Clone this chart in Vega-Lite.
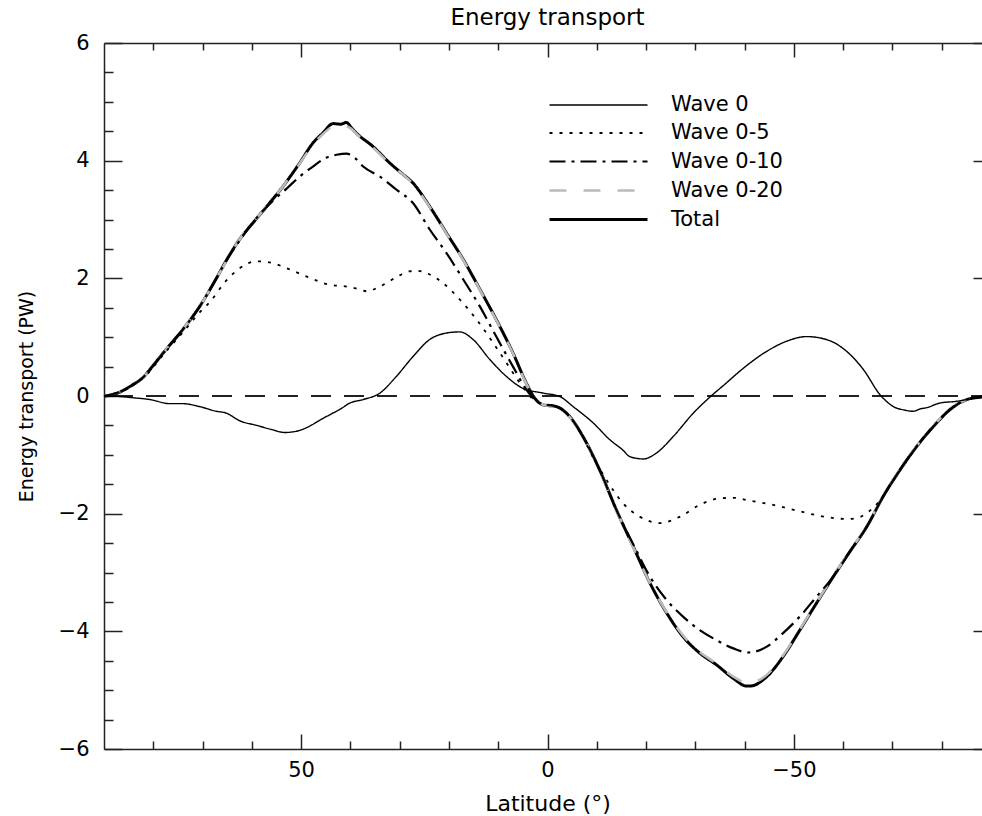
{
  "$schema": "https://vega.github.io/schema/vega-lite/v6.json",
  "width": 887,
  "height": 706,
  "autosize": {"type": "none"},
  "padding": {"left": 104, "top": 43, "right": -9, "bottom": 67},
  "background": "white",
  "title": {"text": "Energy transport", "fontSize": 23, "fontWeight": "normal", "font": "DejaVu Sans", "color": "#000", "offset": 2, "anchor": "middle"},
  "config": {
    "view": {"stroke": null},
    "font": "DejaVu Sans",
    "line": {"interpolate": "monotone"},
    "axis": {"grid": false, "domainColor": "#222", "domainWidth": 1.5, "tickColor": "#222", "tickWidth": 1.5, "labelColor": "#000", "labelFontSize": 21, "labelFont": "DejaVu Sans", "titleColor": "#000", "titleFontWeight": "normal", "labelFlush": false, "labelOverlap": false},
    "legend": {"orient": "none", "legendX": 483, "legendY": 51, "title": null, "symbolType": "M-4.9,0H4.9", "symbolSize": 400, "labelFontSize": 21, "labelFont": "DejaVu Sans", "labelColor": "#000", "labelOffset": 61, "rowPadding": 7, "padding": 0}
  },
  "data": {"values": [
    {"series":"Total","lat":90,"pw":0},{"series":"Total","lat":88.7,"pw":0.01},{"series":"Total","lat":86,"pw":0.1},{"series":"Total","lat":84.2,"pw":0.19},{"series":"Total","lat":82,"pw":0.32},{"series":"Total","lat":80.7,"pw":0.45},{"series":"Total","lat":77.4,"pw":0.79},{"series":"Total","lat":74,"pw":1.13},{"series":"Total","lat":70.6,"pw":1.52},{"series":"Total","lat":67.2,"pw":2.0},{"series":"Total","lat":65.2,"pw":2.3},{"series":"Total","lat":62.5,"pw":2.66},{"series":"Total","lat":59.8,"pw":2.94},{"series":"Total","lat":57,"pw":3.22},{"series":"Total","lat":53.7,"pw":3.56},{"series":"Total","lat":50.3,"pw":3.96},{"series":"Total","lat":47.6,"pw":4.3},{"series":"Total","lat":45.6,"pw":4.47},{"series":"Total","lat":43.5,"pw":4.63},{"series":"Total","lat":42,"pw":4.62},{"series":"Total","lat":40.8,"pw":4.65},{"series":"Total","lat":39.8,"pw":4.56},{"series":"Total","lat":38.8,"pw":4.47},{"series":"Total","lat":35.4,"pw":4.24},{"series":"Total","lat":32,"pw":3.96},{"series":"Total","lat":29.5,"pw":3.78},{"series":"Total","lat":27.3,"pw":3.62},{"series":"Total","lat":23.9,"pw":3.22},{"series":"Total","lat":20.5,"pw":2.77},{"series":"Total","lat":17.1,"pw":2.32},{"series":"Total","lat":13.7,"pw":1.81},{"series":"Total","lat":10.4,"pw":1.3},{"series":"Total","lat":7,"pw":0.73},{"series":"Total","lat":4.3,"pw":0.22},{"series":"Total","lat":2.9,"pw":0},{"series":"Total","lat":0.9,"pw":-0.15},{"series":"Total","lat":-1.8,"pw":-0.18},{"series":"Total","lat":-4.5,"pw":-0.35},{"series":"Total","lat":-7.2,"pw":-0.69},{"series":"Total","lat":-10.6,"pw":-1.26},{"series":"Total","lat":-14,"pw":-1.94},{"series":"Total","lat":-17.4,"pw":-2.56},{"series":"Total","lat":-20.8,"pw":-3.18},{"series":"Total","lat":-24.2,"pw":-3.69},{"series":"Total","lat":-27.5,"pw":-4.09},{"series":"Total","lat":-30.9,"pw":-4.37},{"series":"Total","lat":-34.3,"pw":-4.57},{"series":"Total","lat":-37.7,"pw":-4.8},{"series":"Total","lat":-40.4,"pw":-4.93},{"series":"Total","lat":-41.1,"pw":-4.93},{"series":"Total","lat":-44.5,"pw":-4.77},{"series":"Total","lat":-47.8,"pw":-4.43},{"series":"Total","lat":-51.2,"pw":-3.98},{"series":"Total","lat":-54.6,"pw":-3.52},{"series":"Total","lat":-58,"pw":-3.07},{"series":"Total","lat":-61.4,"pw":-2.64},{"series":"Total","lat":-64.8,"pw":-2.22},{"series":"Total","lat":-68.1,"pw":-1.71},{"series":"Total","lat":-71.5,"pw":-1.26},{"series":"Total","lat":-74.9,"pw":-0.86},{"series":"Total","lat":-78.3,"pw":-0.52},{"series":"Total","lat":-81.7,"pw":-0.23},{"series":"Total","lat":-85.1,"pw":-0.06},{"series":"Total","lat":-87.8,"pw":-0.02},{"series":"Total","lat":-90,"pw":0},

    {"series":"Wave 0-20","lat":90,"pw":0},{"series":"Wave 0-20","lat":86,"pw":0.1},{"series":"Wave 0-20","lat":82,"pw":0.32},{"series":"Wave 0-20","lat":77.4,"pw":0.79},{"series":"Wave 0-20","lat":74,"pw":1.13},{"series":"Wave 0-20","lat":70.6,"pw":1.52},{"series":"Wave 0-20","lat":67.2,"pw":2.0},{"series":"Wave 0-20","lat":62.5,"pw":2.66},{"series":"Wave 0-20","lat":57,"pw":3.22},{"series":"Wave 0-20","lat":53.7,"pw":3.56},{"series":"Wave 0-20","lat":50.3,"pw":3.95},{"series":"Wave 0-20","lat":47.6,"pw":4.27},{"series":"Wave 0-20","lat":45.6,"pw":4.45},{"series":"Wave 0-20","lat":43.5,"pw":4.58},{"series":"Wave 0-20","lat":41.5,"pw":4.6},{"series":"Wave 0-20","lat":39.8,"pw":4.54},{"series":"Wave 0-20","lat":38.8,"pw":4.46},{"series":"Wave 0-20","lat":35.4,"pw":4.22},{"series":"Wave 0-20","lat":32,"pw":3.95},{"series":"Wave 0-20","lat":27.3,"pw":3.6},{"series":"Wave 0-20","lat":23.9,"pw":3.21},{"series":"Wave 0-20","lat":20.5,"pw":2.76},{"series":"Wave 0-20","lat":17.1,"pw":2.31},{"series":"Wave 0-20","lat":13.7,"pw":1.8},{"series":"Wave 0-20","lat":10.4,"pw":1.29},{"series":"Wave 0-20","lat":7,"pw":0.72},{"series":"Wave 0-20","lat":4.3,"pw":0.21},{"series":"Wave 0-20","lat":2.9,"pw":0},{"series":"Wave 0-20","lat":0.9,"pw":-0.15},{"series":"Wave 0-20","lat":-1.8,"pw":-0.19},{"series":"Wave 0-20","lat":-4.5,"pw":-0.36},{"series":"Wave 0-20","lat":-7.2,"pw":-0.7},{"series":"Wave 0-20","lat":-10.6,"pw":-1.27},{"series":"Wave 0-20","lat":-14,"pw":-1.95},{"series":"Wave 0-20","lat":-17.4,"pw":-2.57},{"series":"Wave 0-20","lat":-20.8,"pw":-3.18},{"series":"Wave 0-20","lat":-24.2,"pw":-3.68},{"series":"Wave 0-20","lat":-27.5,"pw":-4.07},{"series":"Wave 0-20","lat":-30.9,"pw":-4.35},{"series":"Wave 0-20","lat":-34.3,"pw":-4.55},{"series":"Wave 0-20","lat":-37.7,"pw":-4.77},{"series":"Wave 0-20","lat":-40.7,"pw":-4.88},{"series":"Wave 0-20","lat":-44.5,"pw":-4.74},{"series":"Wave 0-20","lat":-47.8,"pw":-4.41},{"series":"Wave 0-20","lat":-51.2,"pw":-3.97},{"series":"Wave 0-20","lat":-54.6,"pw":-3.51},{"series":"Wave 0-20","lat":-58,"pw":-3.06},{"series":"Wave 0-20","lat":-61.4,"pw":-2.63},{"series":"Wave 0-20","lat":-64.8,"pw":-2.21},{"series":"Wave 0-20","lat":-68.1,"pw":-1.7},{"series":"Wave 0-20","lat":-71.5,"pw":-1.25},{"series":"Wave 0-20","lat":-74.9,"pw":-0.85},{"series":"Wave 0-20","lat":-78.3,"pw":-0.51},{"series":"Wave 0-20","lat":-81.7,"pw":-0.22},{"series":"Wave 0-20","lat":-85.1,"pw":-0.06},{"series":"Wave 0-20","lat":-90,"pw":0},

    {"series":"Wave 0-10","lat":90,"pw":0},{"series":"Wave 0-10","lat":86,"pw":0.1},{"series":"Wave 0-10","lat":82,"pw":0.32},{"series":"Wave 0-10","lat":77.4,"pw":0.79},{"series":"Wave 0-10","lat":74,"pw":1.13},{"series":"Wave 0-10","lat":70.6,"pw":1.52},{"series":"Wave 0-10","lat":67.2,"pw":2.0},{"series":"Wave 0-10","lat":65.2,"pw":2.3},{"series":"Wave 0-10","lat":62.5,"pw":2.64},{"series":"Wave 0-10","lat":59.1,"pw":3.02},{"series":"Wave 0-10","lat":55.7,"pw":3.32},{"series":"Wave 0-10","lat":53,"pw":3.52},{"series":"Wave 0-10","lat":50.3,"pw":3.73},{"series":"Wave 0-10","lat":47.6,"pw":3.9},{"series":"Wave 0-10","lat":44.9,"pw":4.05},{"series":"Wave 0-10","lat":42.8,"pw":4.1},{"series":"Wave 0-10","lat":40.8,"pw":4.12},{"series":"Wave 0-10","lat":39,"pw":4.04},{"series":"Wave 0-10","lat":37.4,"pw":3.9},{"series":"Wave 0-10","lat":34,"pw":3.73},{"series":"Wave 0-10","lat":30.7,"pw":3.51},{"series":"Wave 0-10","lat":27.3,"pw":3.28},{"series":"Wave 0-10","lat":23.9,"pw":2.83},{"series":"Wave 0-10","lat":20.5,"pw":2.43},{"series":"Wave 0-10","lat":17.1,"pw":1.98},{"series":"Wave 0-10","lat":13.7,"pw":1.52},{"series":"Wave 0-10","lat":10.4,"pw":1.01},{"series":"Wave 0-10","lat":7,"pw":0.5},{"series":"Wave 0-10","lat":4.3,"pw":0.11},{"series":"Wave 0-10","lat":1.6,"pw":-0.12},{"series":"Wave 0-10","lat":-1.8,"pw":-0.18},{"series":"Wave 0-10","lat":-4.5,"pw":-0.35},{"series":"Wave 0-10","lat":-7.2,"pw":-0.69},{"series":"Wave 0-10","lat":-10.6,"pw":-1.26},{"series":"Wave 0-10","lat":-14,"pw":-1.94},{"series":"Wave 0-10","lat":-17.4,"pw":-2.52},{"series":"Wave 0-10","lat":-20.8,"pw":-3.07},{"series":"Wave 0-10","lat":-24.2,"pw":-3.47},{"series":"Wave 0-10","lat":-27.5,"pw":-3.75},{"series":"Wave 0-10","lat":-30.9,"pw":-3.98},{"series":"Wave 0-10","lat":-34.3,"pw":-4.15},{"series":"Wave 0-10","lat":-37.7,"pw":-4.29},{"series":"Wave 0-10","lat":-40.7,"pw":-4.36},{"series":"Wave 0-10","lat":-44.5,"pw":-4.26},{"series":"Wave 0-10","lat":-47.8,"pw":-4.03},{"series":"Wave 0-10","lat":-51.2,"pw":-3.75},{"series":"Wave 0-10","lat":-54.6,"pw":-3.41},{"series":"Wave 0-10","lat":-58,"pw":-3.07},{"series":"Wave 0-10","lat":-61.4,"pw":-2.64},{"series":"Wave 0-10","lat":-64.8,"pw":-2.22},{"series":"Wave 0-10","lat":-68.1,"pw":-1.71},{"series":"Wave 0-10","lat":-71.5,"pw":-1.26},{"series":"Wave 0-10","lat":-74.9,"pw":-0.86},{"series":"Wave 0-10","lat":-78.3,"pw":-0.52},{"series":"Wave 0-10","lat":-81.7,"pw":-0.23},{"series":"Wave 0-10","lat":-85.1,"pw":-0.06},{"series":"Wave 0-10","lat":-90,"pw":0},

    {"series":"Wave 0-5","lat":90,"pw":0},{"series":"Wave 0-5","lat":86,"pw":0.1},{"series":"Wave 0-5","lat":82,"pw":0.31},{"series":"Wave 0-5","lat":77.4,"pw":0.76},{"series":"Wave 0-5","lat":74,"pw":1.08},{"series":"Wave 0-5","lat":70.6,"pw":1.42},{"series":"Wave 0-5","lat":68.5,"pw":1.6},{"series":"Wave 0-5","lat":65.2,"pw":1.96},{"series":"Wave 0-5","lat":62.5,"pw":2.17},{"series":"Wave 0-5","lat":59.1,"pw":2.29},{"series":"Wave 0-5","lat":56.4,"pw":2.27},{"series":"Wave 0-5","lat":52.3,"pw":2.15},{"series":"Wave 0-5","lat":48.3,"pw":2.01},{"series":"Wave 0-5","lat":44.2,"pw":1.89},{"series":"Wave 0-5","lat":40.8,"pw":1.86},{"series":"Wave 0-5","lat":38.5,"pw":1.82},{"series":"Wave 0-5","lat":36.7,"pw":1.78},{"series":"Wave 0-5","lat":34.5,"pw":1.84},{"series":"Wave 0-5","lat":32.7,"pw":1.92},{"series":"Wave 0-5","lat":30,"pw":2.05},{"series":"Wave 0-5","lat":28,"pw":2.12},{"series":"Wave 0-5","lat":26.5,"pw":2.13},{"series":"Wave 0-5","lat":24.6,"pw":2.09},{"series":"Wave 0-5","lat":21.2,"pw":1.92},{"series":"Wave 0-5","lat":17.8,"pw":1.64},{"series":"Wave 0-5","lat":14.4,"pw":1.3},{"series":"Wave 0-5","lat":11,"pw":0.9},{"series":"Wave 0-5","lat":8.3,"pw":0.56},{"series":"Wave 0-5","lat":5.6,"pw":0.22},{"series":"Wave 0-5","lat":3.6,"pw":0},{"series":"Wave 0-5","lat":1,"pw":-0.14},{"series":"Wave 0-5","lat":-1.8,"pw":-0.18},{"series":"Wave 0-5","lat":-4.5,"pw":-0.35},{"series":"Wave 0-5","lat":-7,"pw":-0.66},{"series":"Wave 0-5","lat":-8.6,"pw":-0.94},{"series":"Wave 0-5","lat":-12,"pw":-1.43},{"series":"Wave 0-5","lat":-15.3,"pw":-1.82},{"series":"Wave 0-5","lat":-18.7,"pw":-2.05},{"series":"Wave 0-5","lat":-22.8,"pw":-2.16},{"series":"Wave 0-5","lat":-26.9,"pw":-2.05},{"series":"Wave 0-5","lat":-30.9,"pw":-1.85},{"series":"Wave 0-5","lat":-35,"pw":-1.74},{"series":"Wave 0-5","lat":-38,"pw":-1.73},{"series":"Wave 0-5","lat":-40.4,"pw":-1.77},{"series":"Wave 0-5","lat":-45.8,"pw":-1.85},{"series":"Wave 0-5","lat":-51.2,"pw":-1.96},{"series":"Wave 0-5","lat":-56,"pw":-2.05},{"series":"Wave 0-5","lat":-60.7,"pw":-2.09},{"series":"Wave 0-5","lat":-62.5,"pw":-2.08},{"series":"Wave 0-5","lat":-64.8,"pw":-1.99},{"series":"Wave 0-5","lat":-67.5,"pw":-1.77},{"series":"Wave 0-5","lat":-70.2,"pw":-1.43},{"series":"Wave 0-5","lat":-73.5,"pw":-1.03},{"series":"Wave 0-5","lat":-75,"pw":-0.84},{"series":"Wave 0-5","lat":-78.3,"pw":-0.51},{"series":"Wave 0-5","lat":-81.7,"pw":-0.23},{"series":"Wave 0-5","lat":-85.1,"pw":-0.06},{"series":"Wave 0-5","lat":-90,"pw":0},

    {"series":"Wave 0","lat":90,"pw":0},{"series":"Wave 0","lat":88.9,"pw":0},{"series":"Wave 0","lat":84.1,"pw":-0.03},{"series":"Wave 0","lat":80.7,"pw":-0.06},{"series":"Wave 0","lat":76.7,"pw":-0.13},{"series":"Wave 0","lat":74,"pw":-0.13},{"series":"Wave 0","lat":70.6,"pw":-0.18},{"series":"Wave 0","lat":67.2,"pw":-0.26},{"series":"Wave 0","lat":65.2,"pw":-0.29},{"series":"Wave 0","lat":62.5,"pw":-0.42},{"series":"Wave 0","lat":59,"pw":-0.5},{"series":"Wave 0","lat":56,"pw":-0.57},{"series":"Wave 0","lat":53.3,"pw":-0.62},{"series":"Wave 0","lat":51,"pw":-0.6},{"series":"Wave 0","lat":48,"pw":-0.5},{"series":"Wave 0","lat":46,"pw":-0.4},{"series":"Wave 0","lat":44.2,"pw":-0.32},{"series":"Wave 0","lat":42,"pw":-0.22},{"series":"Wave 0","lat":40.1,"pw":-0.12},{"series":"Wave 0","lat":37.4,"pw":-0.06},{"series":"Wave 0","lat":34,"pw":0.05},{"series":"Wave 0","lat":30.7,"pw":0.33},{"series":"Wave 0","lat":27.3,"pw":0.67},{"series":"Wave 0","lat":23.9,"pw":0.96},{"series":"Wave 0","lat":20.5,"pw":1.07},{"series":"Wave 0","lat":17.8,"pw":1.09},{"series":"Wave 0","lat":15.1,"pw":0.96},{"series":"Wave 0","lat":11.7,"pw":0.62},{"series":"Wave 0","lat":8.3,"pw":0.33},{"series":"Wave 0","lat":5,"pw":0.13},{"series":"Wave 0","lat":0.9,"pw":0.05},{"series":"Wave 0","lat":-2.5,"pw":-0.01},{"series":"Wave 0","lat":-5.2,"pw":-0.18},{"series":"Wave 0","lat":-9.3,"pw":-0.46},{"series":"Wave 0","lat":-12.6,"pw":-0.74},{"series":"Wave 0","lat":-15.3,"pw":-0.92},{"series":"Wave 0","lat":-16.7,"pw":-1.03},{"series":"Wave 0","lat":-19.4,"pw":-1.07},{"series":"Wave 0","lat":-22.1,"pw":-0.97},{"series":"Wave 0","lat":-25.5,"pw":-0.69},{"series":"Wave 0","lat":-29.6,"pw":-0.29},{"series":"Wave 0","lat":-33.2,"pw":0},{"series":"Wave 0","lat":-36,"pw":0.2},{"series":"Wave 0","lat":-39,"pw":0.42},{"series":"Wave 0","lat":-44.5,"pw":0.76},{"series":"Wave 0","lat":-48.5,"pw":0.93},{"series":"Wave 0","lat":-52.6,"pw":1.01},{"series":"Wave 0","lat":-56.6,"pw":0.96},{"series":"Wave 0","lat":-60.7,"pw":0.76},{"series":"Wave 0","lat":-64.1,"pw":0.45},{"series":"Wave 0","lat":-67.5,"pw":0.02},{"series":"Wave 0","lat":-70.2,"pw":-0.18},{"series":"Wave 0","lat":-72.5,"pw":-0.24},{"series":"Wave 0","lat":-74.2,"pw":-0.26},{"series":"Wave 0","lat":-75.6,"pw":-0.22},{"series":"Wave 0","lat":-76.9,"pw":-0.2},{"series":"Wave 0","lat":-79.6,"pw":-0.12},{"series":"Wave 0","lat":-83,"pw":-0.09},{"series":"Wave 0","lat":-86.4,"pw":-0.04},{"series":"Wave 0","lat":-90,"pw":0}
  ]},
  "resolve": {"axis": {"x": "independent", "y": "independent"}},
  "encoding": {
    "x": {"field": "lat", "type": "quantitative", "scale": {"domain": [-90, 90], "reverse": true, "nice": false, "zero": false}},
    "y": {"field": "pw", "type": "quantitative", "scale": {"domain": [-6, 6], "nice": false, "zero": false}},
    "color": {"field": "series", "type": "nominal", "scale": {"domain": ["Wave 0", "Wave 0-5", "Wave 0-10", "Wave 0-20", "Total"], "range": ["#000000", "#000000", "#000000", "#bbbbbb", "#000000"]}},
    "strokeDash": {"field": "series", "type": "nominal", "scale": {"domain": ["Wave 0", "Wave 0-5", "Wave 0-10", "Wave 0-20", "Total"], "range": [[1, 0], [3, 7], [16, 6, 3, 6], [17, 17], [1, 0]]}},
    "strokeWidth": {"field": "series", "type": "nominal", "scale": {"domain": ["Wave 0", "Wave 0-5", "Wave 0-10", "Wave 0-20", "Total"], "range": [1.4, 3, 3.8, 4, 3]}}
  },
  "layer": [
    {
      "mark": {"type": "rule", "strokeDash": [20, 13], "strokeWidth": 1.4, "color": "#222"},
      "encoding": {"y": {"datum": 0, "axis": null}, "x": null, "color": null, "strokeDash": null, "strokeWidth": null}
    },
    {
      "transform": [{"filter": "datum.series === 'Total'"}],
      "mark": {"type": "line"},
      "encoding": {
        "x": {"field": "lat", "type": "quantitative", "axis": {"orient": "bottom", "values": [50, 0, -50], "ticks": false, "domain": true, "labelPadding": 10, "title": "Latitude (°)", "titleFontSize": 22, "titlePadding": 13}},
        "y": {"field": "pw", "type": "quantitative", "axis": {"orient": "left", "values": [-6, -4, -2, 0, 2, 4, 6], "ticks": false, "domain": true, "labelPadding": 15, "title": "Energy transport (PW)", "titleFontSize": 19, "titlePadding": 22}}
      }
    },
    {
      "transform": [{"filter": "datum.series === 'Wave 0-20'"}],
      "mark": {"type": "line"},
      "encoding": {
        "x": {"field": "lat", "type": "quantitative", "axis": {"orient": "bottom", "values": [50, 0, -50], "labels": false, "domain": false, "tickSize": -15, "title": null}},
        "y": {"field": "pw", "type": "quantitative", "axis": {"orient": "left", "values": [-6, -4, -2, 0, 2, 4, 6], "labels": false, "domain": false, "tickSize": -18, "title": null}}
      }
    },
    {
      "transform": [{"filter": "datum.series === 'Wave 0-10'"}],
      "mark": {"type": "line"},
      "encoding": {
        "x": {"field": "lat", "type": "quantitative", "axis": {"orient": "bottom", "values": [80, 70, 60, 40, 30, 20, 10, -10, -20, -30, -40, -60, -70, -80], "labels": false, "domain": false, "tickSize": -8, "title": null}},
        "y": {"field": "pw", "type": "quantitative", "axis": {"orient": "left", "values": [-5.5, -5, -4.5, -3.5, -3, -2.5, -1.5, -1, -0.5, 0.5, 1, 1.5, 2.5, 3, 3.5, 4.5, 5, 5.5], "labels": false, "domain": false, "tickSize": -9, "title": null}}
      }
    },
    {
      "transform": [{"filter": "datum.series === 'Wave 0-5'"}],
      "mark": {"type": "line"},
      "encoding": {
        "x": {"field": "lat", "type": "quantitative", "axis": {"orient": "top", "values": [50, 0, -50], "labels": false, "domain": true, "tickSize": -14, "title": null}},
        "y": {"field": "pw", "type": "quantitative", "axis": {"orient": "right", "values": [-6, -4, -2, 0, 2, 4, 6], "labels": false, "domain": true, "tickSize": -18, "title": null}}
      }
    },
    {
      "transform": [{"filter": "datum.series === 'Wave 0'"}],
      "mark": {"type": "line"},
      "encoding": {
        "x": {"field": "lat", "type": "quantitative", "axis": {"orient": "top", "values": [80, 70, 60, 40, 30, 20, 10, -10, -20, -30, -40, -60, -70, -80], "labels": false, "domain": false, "tickSize": -7, "title": null}},
        "y": {"field": "pw", "type": "quantitative", "axis": {"orient": "right", "values": [-5.5, -5, -4.5, -3.5, -3, -2.5, -1.5, -1, -0.5, 0.5, 1, 1.5, 2.5, 3, 3.5, 4.5, 5, 5.5], "labels": false, "domain": false, "tickSize": -9, "title": null}}
      }
    }
  ]
}
